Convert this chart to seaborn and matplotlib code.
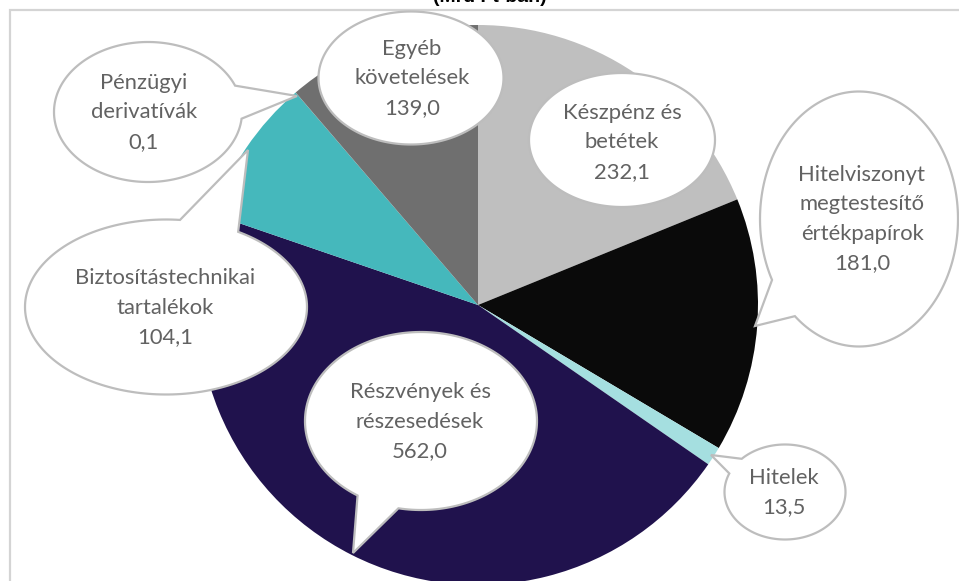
import numpy as np
import matplotlib
matplotlib.use("Agg")
import matplotlib.pyplot as plt
from matplotlib.patches import Polygon
import seaborn as sns

# ---- data ----
categories = ["Készpénz és betétek", "Hitelviszonyt megtestesítő értékpapírok",
              "Hitelek", "Részvények és részesedések",
              "Biztosítástechnikai tartalékok", "Pénzügyi derivatívák",
              "Egyéb követelések"]
values = [232.1, 181.0, 13.5, 562.0, 104.1, 0.1, 139.0]
label_lines = [["Készpénz és", "betétek"],
               ["Hitelviszonyt", "megtestesítő", "értékpapírok"],
               ["Hitelek"],
               ["Részvények és", "részesedések"],
               ["Biztosítástechnikai", "tartalékok"],
               ["Pénzügyi", "derivatívák"],
               ["Egyéb", "követelések"]]
slice_colors = ["#BFBFBF", "#0A0A0A", "#A5DFE0", "#20124D", "#45B8BC", "#8C8C8C", "#6F6F6F"]
title = "(Mrd Ft-ban)"

# ---- layout (pixel coordinates, y downward) ----
W, H = 959, 581
PIE_C = (478, 305)
PIE_R = 280
bubbles = [
    dict(c=(622, 140), w=186, h=134, tail=None, tx=622, ty=113),
    dict(c=(859, 219), w=198, h=255, tail=((772, 280), (795, 316), (755, 326)), tx=862, ty=175),
    dict(c=(785, 492), w=121, h=95, tail=((728, 473), (742, 459), (711, 455)), tx=784, ty=478),
    dict(c=(421, 421), w=232, h=178, tail=((358, 495), (398, 510), (353, 553)), tx=420, ty=392),
    dict(c=(166, 307), w=282, h=175, tail=((180, 220), (238, 232), (248, 150)), tx=165, ty=278),
    dict(c=(148, 112), w=188, h=140, tail=((224, 89), (232, 118), (297, 96)), tx=144, ty=83),
    dict(c=(411, 78), w=185, h=133, tail=None, tx=412, ty=49),
]
LINE_STEP = 29.5


def Y(py):
    return H - py


def bubble_path(c, w, h, tail):
    cx, cy = c
    a, b = w / 2, h / 2
    if tail is None:
        t = np.linspace(0, 2 * np.pi, 200)
        return np.column_stack([cx + a * np.cos(t), cy + b * np.sin(t)])
    b1, b2, tip = tail
    a1 = np.arctan2((b1[1] - cy) / b, (b1[0] - cx) / a)
    a2 = np.arctan2((b2[1] - cy) / b, (b2[0] - cx) / a)
    d = (a2 - a1) % (2 * np.pi)
    if d > np.pi:
        a1, a2 = a2, a1
        d = 2 * np.pi - d
    t = np.linspace(a1 + d, a1 + 2 * np.pi, 200)
    pts = np.column_stack([cx + a * np.cos(t), cy + b * np.sin(t)])
    return np.vstack([pts, [tip]])


sns.set_style("white")
plt.rcParams["font.family"] = ["Lato", "DejaVu Sans"]
palette = sns.color_palette(slice_colors)

fig = plt.figure(figsize=(W / 100, H / 100), dpi=100)
ax = fig.add_axes([0, 0, 1, 1])
ax.pie(values, colors=palette, startangle=90, counterclock=False,
       center=(PIE_C[0], Y(PIE_C[1])), radius=PIE_R,
       wedgeprops=dict(linewidth=0, antialiased=True), frame=True)
ax.set_xlim(0, W)
ax.set_ylim(0, H)
ax.set_aspect("equal")
ax.axis("off")

# frame
ax.plot([10, 10, W + 5], [Y(H + 5), Y(10), Y(10)], color="#D4D4D4", lw=1.6,
        solid_joinstyle="miter", zorder=1)

text_color = "#626262"
for bub, lines, v in zip(bubbles, label_lines, values):
    pts = bubble_path(bub["c"], bub["w"], bub["h"], bub["tail"])
    pts[:, 1] = H - pts[:, 1]
    ax.add_patch(Polygon(pts, closed=True, facecolor="white", edgecolor="#BDBDBD",
                         lw=1.6, zorder=3, joinstyle="miter"))
    all_lines = lines + [f"{v:.1f}".replace(".", ",")]
    for i, ln in enumerate(all_lines):
        ax.text(bub["tx"], Y(bub["ty"] + i * LINE_STEP), ln, ha="center", va="center",
                fontsize=15.8, color=text_color, zorder=4)

ax.text(490, Y(2.5), title, ha="center", va="baseline", fontsize=14,
        fontweight="bold", color="black", family=["Liberation Sans", "DejaVu Sans"])

fig.savefig("out.png", dpi=100)
